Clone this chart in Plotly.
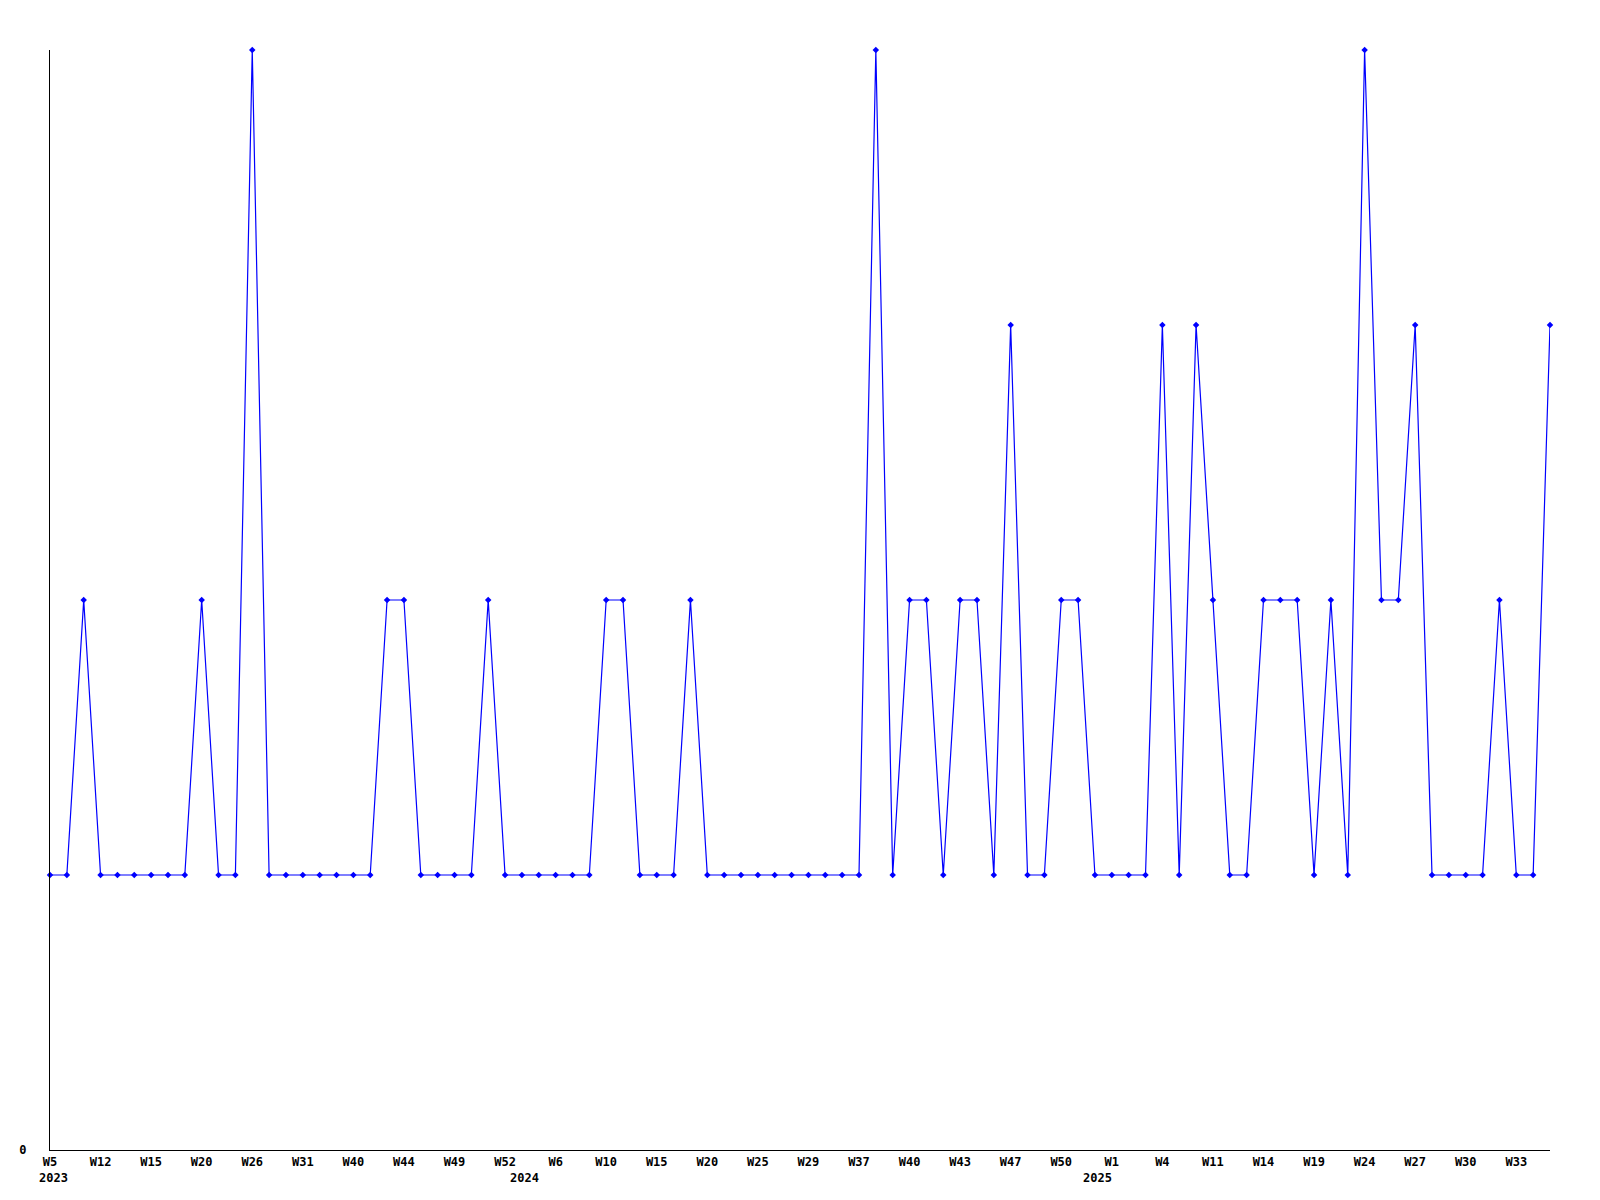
import plotly.graph_objects as go

# Weekly counts (90 consecutive data points)
values = [1, 1, 2, 1, 1, 1, 1, 1, 1, 2,
          1, 1, 4, 1, 1, 1, 1, 1, 1, 1,
          2, 2, 1, 1, 1, 1, 2, 1, 1, 1,
          1, 1, 1, 2, 2, 1, 1, 1, 2, 1,
          1, 1, 1, 1, 1, 1, 1, 1, 1, 4,
          1, 2, 2, 1, 2, 2, 1, 3, 1, 1,
          2, 2, 1, 1, 1, 1, 3, 1, 3, 2,
          1, 1, 2, 2, 2, 1, 2, 1, 4, 2,
          2, 3, 1, 1, 1, 1, 2, 1, 1, 3]

# Week tick labels (shown on every third point)
week_labels = ["W5", "W12", "W15", "W20", "W26", "W31", "W40", "W44", "W49", "W52",
               "W6", "W10", "W15", "W20", "W25", "W29", "W37", "W40", "W43", "W47",
               "W50", "W1", "W4", "W11", "W14", "W19", "W24", "W27", "W30", "W33"]
label_step = 3

# Year markers (point index where each year label sits)
years = ["2023", "2024", "2025"]
year_positions = [0, 28, 62]

x_idx = list(range(len(values)))
tick_positions = [i * label_step for i in range(len(week_labels))]

FONT = dict(family="DejaVu Sans Mono", size=12, color="black", weight="bold")

fig = go.Figure()
fig.add_trace(go.Scatter(
    x=x_idx, y=values, mode="lines+markers",
    line=dict(color="#0000ff", width=1.2),
    marker=dict(symbol="diamond", size=5, color="#0000ff"),
    cliponaxis=False, showlegend=False,
))

for yr, pos in zip(years, year_positions):
    fig.add_annotation(x=pos, xref="x", y=0, yref="paper", yshift=-28, xshift=3,
                       text=yr, showarrow=False, font=FONT,
                       xanchor="center", yanchor="middle")

fig.update_layout(
    width=1600, height=1200,
    margin=dict(l=42, r=58, t=42, b=58),
    paper_bgcolor="white", plot_bgcolor="white",
    font=FONT,
)
fig.update_xaxes(range=[0, len(values) - 1], tickmode="array",
                 tickvals=tick_positions, ticktext=week_labels,
                 showgrid=False, zeroline=False, showline=True,
                 linecolor="black", linewidth=1, ticks="",
                 ticklabelstandoff=1, tickfont=FONT)
fig.update_yaxes(range=[0, 4], tickmode="array", tickvals=[0], ticktext=["0"],
                 showgrid=False, zeroline=False, showline=True,
                 linecolor="black", linewidth=1, ticks="",
                 ticklabelstandoff=20, tickfont=FONT)

fig.write_html("out.html")
